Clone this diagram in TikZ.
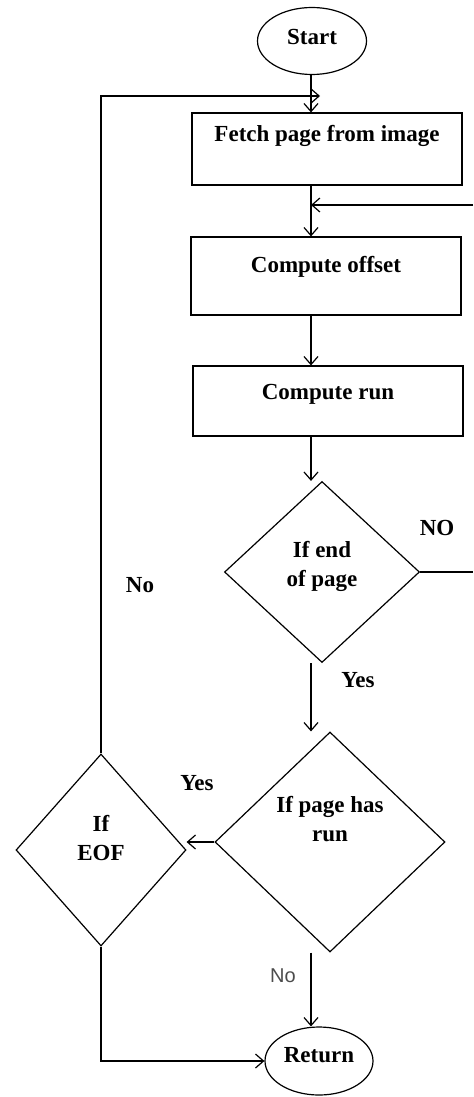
\documentclass[tikz,border=0pt]{standalone}
\usepackage{fontspec}
\setmainfont{Liberation Serif}
\setsansfont{Liberation Sans}
\usetikzlibrary{shapes.geometric,arrows.meta}

\begin{document}
\begin{tikzpicture}[x=0.5pt, y=-0.5pt, line width=0.6pt,
  every node/.style={font=\bfseries\fontsize{11.5}{14.5}\selectfont},
  box/.style={draw, rectangle, minimum width=135pt, inner sep=0pt},
  decision/.style={draw, diamond, align=center, inner sep=0pt},
  terminal/.style={draw, ellipse, inner sep=0pt},
  flow/.style={-{Straight Barb[length=4pt,width=7pt]}}]
  \useasboundingbox (0,0) rectangle (473,1097);
  % steps of the main column
  \node[terminal, minimum width=54.5pt, minimum height=33.5pt, text depth=4.5pt] (start) at (312,41) {Start};
  \node[box, minimum height=36pt, text depth=16pt] (fetch) at (327,149) {Fetch page from image};
  \node[box, minimum height=39pt, text depth=12pt] (offset) at (326,276) {Compute offset};
  \node[box, minimum height=35pt, text depth=9pt] (run) at (328,401) {Compute run};
  \node[decision, minimum width=97.5pt, minimum height=90.5pt, text depth=8.5pt] (endpage) at (322,572) {If end\\of page};
  \node[decision, minimum width=115pt, minimum height=110pt, text depth=23pt] (hasrun) at (330,842) {If page has\\run};
  \node[decision, minimum width=85pt, minimum height=96pt, text depth=12pt] (eof) at (101,850) {If\\EOF};
  \node[terminal, minimum width=54pt, minimum height=34pt, text depth=6pt] (return) at (319,1061) {Return};
  % turning points
  \coordinate (col) at (311,0);
  \coordinate (loopin) at (320,96);
  \coordinate (rightout) at (473,572); \coordinate (rightin) at (473,205);
  % connectors
  \draw[flow] (col |- start.south) -- (col |- fetch.north);
  \draw[flow] (col |- fetch.south) -- (col |- offset.north);
  \draw[flow] (col |- offset.south) -- (col |- run.north);
  \draw[flow] (col |- run.south) -- (col |- endpage.north);
  \draw[flow] (col |- endpage.south) -- (col |- hasrun.north);
  \draw[flow] (col |- hasrun.south) -- (col |- return.north);
  \draw (endpage.east) -- (rightout);
  \draw[flow] (rightin) -- (col |- rightin);
  \draw[flow] (hasrun.west) -- (hasrun.west -| eof.east);
  \draw[flow] (eof.north) -- (eof.north |- loopin) -- (loopin);
  \draw[flow] (eof.south) -- (eof.south |- return.west) -- (return.west);
  % branch labels
  \node (noendlbl) at (437,528) {NO};
  \node (nolooplbl) at (140,585) {No};
  \node (yesendlbl) at (358,680) {Yes};
  \node (yeslbl) at (197,783) {Yes};
  \node[font=\sffamily\fontsize{10}{12}\selectfont, text=black!70] (noretlbl) at (283,976) {No};
\end{tikzpicture}
\end{document}
